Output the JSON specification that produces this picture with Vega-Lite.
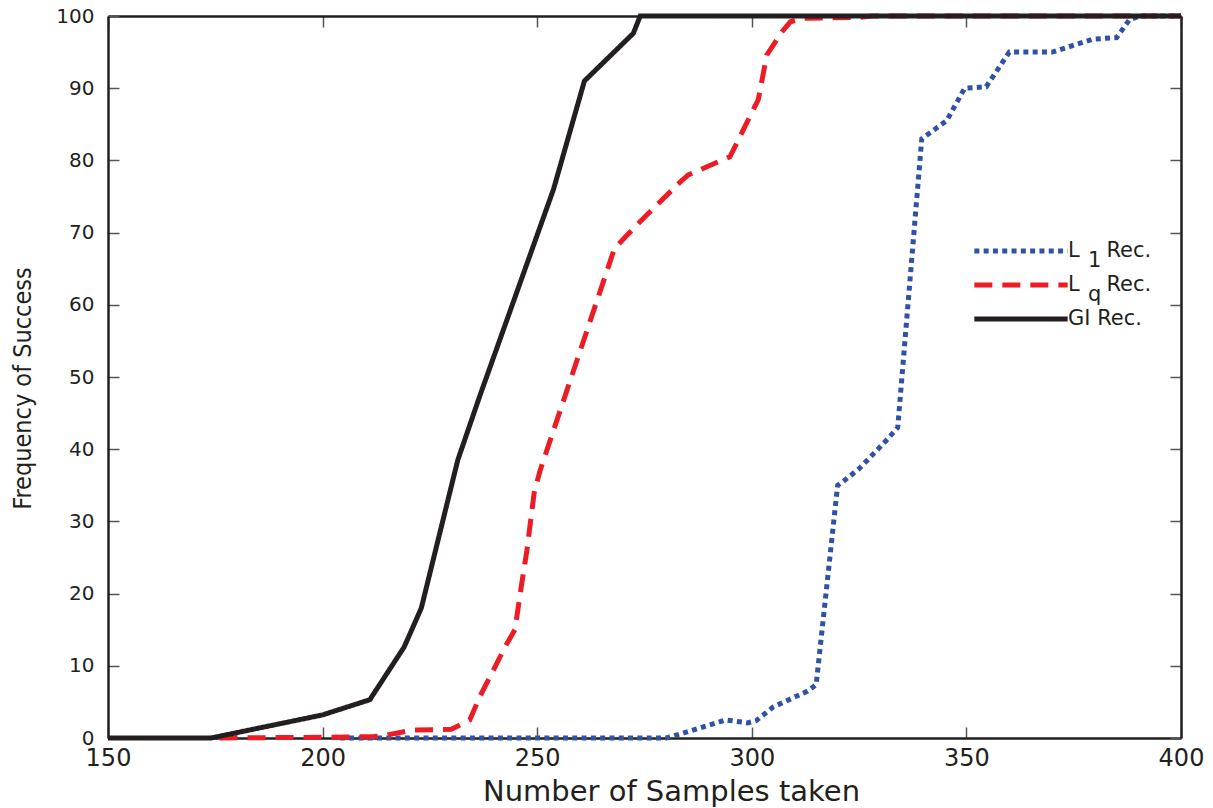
{
  "$schema": "https://vega.github.io/schema/vega-lite/v6.json",
  "width": 1073,
  "height": 722,
  "autosize": {"type": "none"},
  "padding": {"left": 108, "top": 16, "right": 32, "bottom": 70},
  "background": "white",
  "data": {
    "values": [
      {"method": "L1", "samples": 204, "freq": 0},
      {"method": "L1", "samples": 280, "freq": 0},
      {"method": "L1", "samples": 283, "freq": 0.5},
      {"method": "L1", "samples": 294, "freq": 2.5},
      {"method": "L1", "samples": 299, "freq": 2.1},
      {"method": "L1", "samples": 301, "freq": 2.4},
      {"method": "L1", "samples": 305, "freq": 4.3},
      {"method": "L1", "samples": 313, "freq": 6.5},
      {"method": "L1", "samples": 315, "freq": 7.4},
      {"method": "L1", "samples": 320, "freq": 35},
      {"method": "L1", "samples": 321, "freq": 35.4},
      {"method": "L1", "samples": 325, "freq": 37.3},
      {"method": "L1", "samples": 331, "freq": 41},
      {"method": "L1", "samples": 334, "freq": 43},
      {"method": "L1", "samples": 339.6, "freq": 83},
      {"method": "L1", "samples": 345.4, "freq": 85.5},
      {"method": "L1", "samples": 349.6, "freq": 90},
      {"method": "L1", "samples": 354.6, "freq": 90.2},
      {"method": "L1", "samples": 360, "freq": 95},
      {"method": "L1", "samples": 370, "freq": 95},
      {"method": "L1", "samples": 379.5, "freq": 96.8},
      {"method": "L1", "samples": 385, "freq": 97},
      {"method": "L1", "samples": 388, "freq": 99.5},
      {"method": "L1", "samples": 390.5, "freq": 100},
      {"method": "L1", "samples": 400, "freq": 100},
      {"method": "Lq", "samples": 176, "freq": 0},
      {"method": "Lq", "samples": 200, "freq": 0.1},
      {"method": "Lq", "samples": 212, "freq": 0.2},
      {"method": "Lq", "samples": 214, "freq": 0.3},
      {"method": "Lq", "samples": 221, "freq": 1.1},
      {"method": "Lq", "samples": 230, "freq": 1.2},
      {"method": "Lq", "samples": 234.3, "freq": 2.5},
      {"method": "Lq", "samples": 236.6, "freq": 5.7},
      {"method": "Lq", "samples": 239.8, "freq": 9.4},
      {"method": "Lq", "samples": 242.5, "freq": 12.6},
      {"method": "Lq", "samples": 244.8, "freq": 15},
      {"method": "Lq", "samples": 246.4, "freq": 21.4},
      {"method": "Lq", "samples": 247.6, "freq": 26},
      {"method": "Lq", "samples": 249.3, "freq": 34},
      {"method": "Lq", "samples": 250.7, "freq": 37.1},
      {"method": "Lq", "samples": 268, "freq": 67.8},
      {"method": "Lq", "samples": 273.6, "freq": 71.3},
      {"method": "Lq", "samples": 283.3, "freq": 77},
      {"method": "Lq", "samples": 285.2, "freq": 78},
      {"method": "Lq", "samples": 294.9, "freq": 80.5},
      {"method": "Lq", "samples": 301.5, "freq": 88.4},
      {"method": "Lq", "samples": 303.5, "freq": 94.6},
      {"method": "Lq", "samples": 307, "freq": 97.8},
      {"method": "Lq", "samples": 309, "freq": 99.2},
      {"method": "Lq", "samples": 312, "freq": 99.7},
      {"method": "Lq", "samples": 325, "freq": 99.8},
      {"method": "Lq", "samples": 328, "freq": 100},
      {"method": "Lq", "samples": 400, "freq": 100},
      {"method": "GI", "samples": 150, "freq": 0},
      {"method": "GI", "samples": 174, "freq": 0},
      {"method": "GI", "samples": 200, "freq": 3.2},
      {"method": "GI", "samples": 211, "freq": 5.3},
      {"method": "GI", "samples": 219, "freq": 12.6},
      {"method": "GI", "samples": 223, "freq": 18},
      {"method": "GI", "samples": 231.5, "freq": 38.5},
      {"method": "GI", "samples": 236.7, "freq": 47.5},
      {"method": "GI", "samples": 253.8, "freq": 76},
      {"method": "GI", "samples": 261, "freq": 91},
      {"method": "GI", "samples": 272.4, "freq": 97.6},
      {"method": "GI", "samples": 274, "freq": 100},
      {"method": "GI", "samples": 400, "freq": 100}
    ]
  },
  "layer": [
    {
      "mark": {"type": "line", "strokeWidth": 5, "strokeCap": "butt", "strokeJoin": "miter"},
      "encoding": {
        "x": {
          "field": "samples", "type": "quantitative",
          "scale": {"domain": [150, 400], "nice": false, "zero": false},
          "axis": {
            "orient": "bottom", "values": [150, 200, 250, 300, 350, 400],
            "title": "Number of Samples taken",
            "titleFont": "DejaVu Sans", "titleFontSize": 29, "titleFontWeight": "normal",
            "titlePadding": 7, "titleX": 563,
            "labelFont": "DejaVu Sans", "labelFontSize": 24,
            "tickSize": -11, "labelPadding": 19
          }
        },
        "y": {
          "field": "freq", "type": "quantitative",
          "scale": {"domain": [0, 100], "nice": false},
          "axis": {
            "orient": "left", "values": [0, 10, 20, 30, 40, 50, 60, 70, 80, 90, 100],
            "title": "Frequency of Success",
            "titleFont": "DejaVu Sans Condensed, Liberation Sans Narrow, sans-serif",
            "titleFontSize": 25, "titleFontWeight": "normal", "titlePadding": 20,
            "titleY": 372,
            "labelFont": "DejaVu Sans", "labelFontSize": 20,
            "tickSize": -11, "labelPadding": 25
          }
        },
        "color": {
          "field": "method", "type": "nominal",
          "scale": {"domain": ["L1", "Lq", "GI"], "range": ["#2F52A4", "#ED1C24", "#231F20"]},
          "legend": {
            "title": null,
            "orient": "none", "legendX": 900, "legendY": 222,
            "symbolType": "M-4.5,0H4.5", "symbolSize": 430, "symbolStrokeWidth": 5,
            "labelFont": "DejaVu Sans", "labelFontSize": 21, "labelColor": "#231F20",
            "labelOffset": 34, "rowPadding": 1, "labelLimit": 300,
            "labelExpr": "datum.value == 'L1' ? ['L\u00a0\u00a0\u00a0\u00a0Rec.', '\u200b\u00a0\u00a0\u00a01'] : datum.value == 'Lq' ? ['L\u00a0\u00a0\u00a0\u00a0Rec.', '\u200b\u00a0\u00a0\u00a0q'] : 'GI Rec.'"
          }
        },
        "strokeDash": {
          "field": "method", "type": "nominal",
          "scale": {"domain": ["L1", "Lq", "GI"], "range": [[5, 4.3], [18, 10], [1, 0]]},
          "legend": null
        }
      }
    },
    {
      "mark": {"type": "point", "opacity": 0},
      "encoding": {
        "x": {
          "field": "samples", "type": "quantitative",
          "axis": {"orient": "top", "values": [150, 200, 250, 300, 350, 400], "labels": false, "title": null, "tickSize": -11}
        },
        "y": {
          "field": "freq", "type": "quantitative",
          "axis": {"orient": "right", "values": [0, 10, 20, 30, 40, 50, 60, 70, 80, 90, 100], "labels": false, "title": null, "tickSize": -11}
        }
      }
    }
  ],
  "resolve": {"axis": {"x": "independent", "y": "independent"}},
  "config": {
    "view": {"stroke": null},
    "axis": {
      "domainColor": "#231F20", "domainWidth": 2.5,
      "tickColor": "#555555", "tickWidth": 1.5,
      "labelColor": "#231F20", "titleColor": "#231F20",
      "grid": false, "labelOverlap": false, "labelFlush": false, "labelBound": false
    },
    "style": {"guide-label": {"lineHeight": 10}}
  }
}
